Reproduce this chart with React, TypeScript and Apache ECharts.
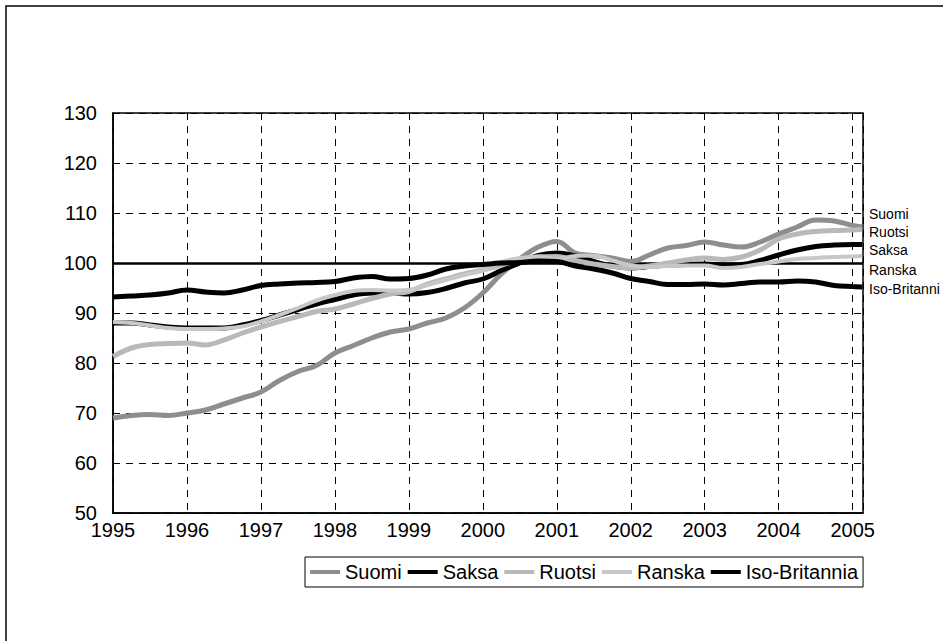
import React, { useEffect, useRef } from "react";
import * as echarts from "echarts";

const years: number[] = [
  1995.0, 1995.25, 1995.5, 1995.75, 1996.0, 1996.25, 1996.5, 1996.75,
  1997.0, 1997.25, 1997.5, 1997.75, 1998.0, 1998.25, 1998.5, 1998.75,
  1999.0, 1999.25, 1999.5, 1999.75, 2000.0, 2000.25, 2000.5, 2000.75,
  2001.0, 2001.25, 2001.5, 2001.75, 2002.0, 2002.25, 2002.5, 2002.75,
  2003.0, 2003.25, 2003.5, 2003.75, 2004.0, 2004.25, 2004.5, 2004.75,
  2005.0, 2005.13,
];

const suomi: number[] = [
  69, 69.5, 69.7, 69.5, 70, 70.6, 71.8, 73.0,
  74.2, 76.5, 78.3, 79.5, 82, 83.5, 85, 86.2,
  86.8, 88, 89, 91, 94, 97.8, 100.8, 103.2,
  104.3, 102, 101.5, 101, 100.3, 101.6, 103, 103.5,
  104.2, 103.6, 103.2, 104.2, 105.8, 107.2, 108.6, 108.4,
  107.5, 107.2,
];

const saksa: number[] = [
  88, 88, 87.6, 87.2, 87, 87, 87, 87.6,
  88.5, 89.6, 90.7, 91.8, 92.7, 93.6, 94, 94,
  93.8, 94.1, 94.9, 96, 96.8, 98.5, 100, 101.5,
  102, 101.4, 100.3, 99.4, 99, 99.3, 99.6, 99.7,
  99.8, 99.6, 99.7, 100.5, 101.6, 102.6, 103.3, 103.6,
  103.7, 103.7,
];

const ruotsi: number[] = [
  81.3, 83, 83.7, 83.9, 84, 83.6, 84.6, 86,
  87.2, 88.3, 89.3, 90.3, 90.8, 91.8, 92.9, 93.8,
  94.3, 95.8, 96.8, 97.8, 98.6, 99.6, 100.5, 101.2,
  101.3, 100.5, 99.8, 99.3, 99, 99.4, 100, 100.6,
  101, 100.7, 101.2, 102.6, 104.8, 105.8, 106.3, 106.5,
  106.6, 106.7,
];

const ranska: number[] = [
  88.2, 88, 87.5, 87, 86.8, 86.8, 86.9, 87.3,
  88.3, 89.6, 91, 92.5, 93.6, 94.4, 94.6, 94.5,
  94.6, 95.6, 96.6, 97.6, 98.5, 100.2, 101, 101.3,
  100.8, 101.4, 101.5, 100.5, 99.5, 99.2, 99.4, 99.5,
  99.5, 99, 99.2, 99.8, 100.3, 100.8, 101, 101.2,
  101.3, 101.4,
];

const isoBritannia: number[] = [
  93.2, 93.4, 93.6, 94, 94.6, 94.2, 94, 94.6,
  95.5, 95.8, 96, 96.1, 96.3, 97, 97.3, 96.8,
  96.9, 97.6, 98.8, 99.4, 99.7, 100, 100.1, 100.4,
  100.3, 99.4, 98.8, 98, 96.9, 96.3, 95.7, 95.7,
  95.8, 95.6, 95.9, 96.2, 96.2, 96.4, 96.2, 95.5,
  95.3, 95.2,
];

const seriesNames: string[] = ["Suomi", "Saksa", "Ruotsi", "Ranska", "Iso-Britannia"];
const endLabels: string[] = ["Suomi", "Ruotsi", "Saksa", "Ranska", "Iso-Britanni"];
const endLabelY: number[] = [214, 232, 250, 270, 289];

const FONT = "'Liberation Sans', Arial, sans-serif";

export default function App() {
  const ref = useRef<HTMLDivElement>(null);

  useEffect(() => {
    if (!ref.current) return;
    const chart = echarts.init(ref.current, undefined, { renderer: "svg" });
    const pair = (vals: number[]) => years.map((y, i) => [y, vals[i]]);
    const styles = [
      { color: "#8e8e8e", width: 5 },
      { color: "#000000", width: 5 },
      { color: "#b9b9b9", width: 5 },
      { color: "#c8c8c8", width: 4 },
      { color: "#000000", width: 5 },
    ];
    const dataSets = [suomi, saksa, ruotsi, ranska, isoBritannia];
    const series: any[] = seriesNames.map((name, i) => ({
      name,
      type: "line",
      smooth: 0.4,
      showSymbol: false,
      symbol: "none",
      data: pair(dataSets[i]),
      lineStyle: { color: styles[i].color, width: styles[i].width },
      itemStyle: { color: styles[i].color },
      z: 3,
    }));
    series[0].markLine = {
      silent: true,
      symbol: "none",
      label: { show: false },
      lineStyle: { color: "#000", width: 2.5, type: "solid" },
      data: [{ yAxis: 100 }],
      z: 2,
    };

    chart.setOption({
      animation: false,
      backgroundColor: "#ffffff",
      textStyle: { fontFamily: FONT },
      grid: {
        left: 113,
        right: 80,
        top: 113,
        bottom: 128,
        show: true,
        borderColor: "#000",
        borderWidth: 1.5,
      },
      xAxis: {
        type: "value",
        min: 1995,
        max: 2005.14,
        interval: 1,
        axisLine: { show: true, lineStyle: { color: "#000", width: 1.5 } },
        axisTick: { show: false },
        splitLine: {
          show: true,
          lineStyle: { color: "#000", width: 1, type: [7, 6] },
        },
        axisLabel: {
          color: "#000",
          fontSize: 20,
          fontFamily: FONT,
          margin: 7,
          showMaxLabel: false,
          formatter: (v: number) => String(Math.round(v)),
        },
      },
      yAxis: {
        type: "value",
        min: 50,
        max: 130,
        interval: 10,
        axisLine: { show: true, lineStyle: { color: "#000", width: 1.5 } },
        axisTick: { show: false },
        splitLine: {
          show: true,
          lineStyle: { color: "#000", width: 1, type: [7, 6] },
        },
        axisLabel: {
          color: "#000",
          fontSize: 20,
          fontFamily: FONT,
          margin: 16,
        },
      },
      legend: {
        left: 305,
        top: 557,
        orient: "horizontal",
        data: seriesNames,
        icon: "rect",
        itemWidth: 30,
        itemHeight: 4,
        itemGap: 6,
        padding: [5, 5, 5, 5],
        borderColor: "#000",
        borderWidth: 1,
        textStyle: { color: "#000", fontSize: 20, fontFamily: FONT },
      },
      graphic: [
        {
          type: "rect",
          shape: { x: 6, y: 6, width: 1000, height: 1000 },
          style: { fill: "none", stroke: "#000", lineWidth: 1.5 },
          silent: true,
        },
        ...endLabels.map((t, i) => ({
          type: "text",
          x: 869,
          y: endLabelY[i],
          style: {
            text: t,
            fill: "#000",
            fontSize: 14,
            fontFamily: FONT,
            verticalAlign: "middle",
            align: "left",
          },
          silent: true,
        })),
      ],
      series,
    });
    return () => chart.dispose();
  }, []);

  return (
    <div
      ref={ref}
      style={{ position: "fixed", left: 0, top: 0, width: 943, height: 641 }}
    />
  );
}
